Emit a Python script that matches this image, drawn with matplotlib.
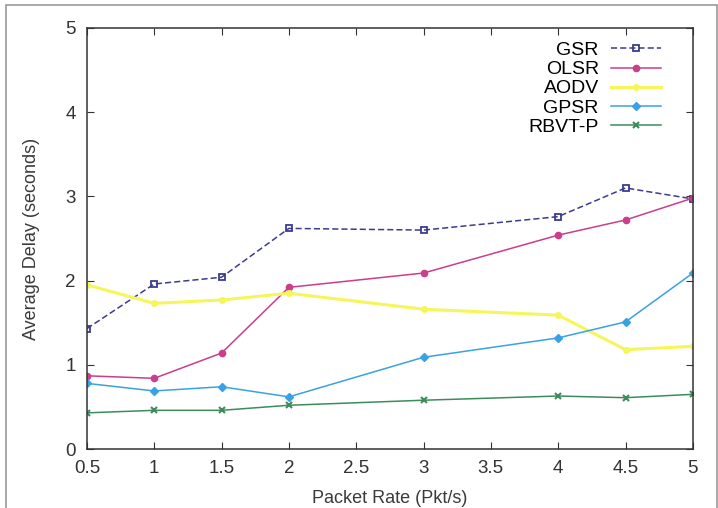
import matplotlib
matplotlib.use('Agg')
import matplotlib.pyplot as plt
from matplotlib.patches import Rectangle

plt.rcParams['font.family'] = ['Liberation Sans', 'DejaVu Sans']

# Packet rate (Pkt/s) and average delay (seconds) per protocol
rate = [0.5, 1, 1.5, 2, 3, 4, 4.5, 5]
gsr = [1.43, 1.96, 2.04, 2.62, 2.60, 2.76, 3.10, 2.97]
olsr = [0.87, 0.84, 1.14, 1.92, 2.09, 2.54, 2.72, 2.98]
aodv = [1.95, 1.73, 1.77, 1.85, 1.66, 1.59, 1.18, 1.22]
gpsr = [0.78, 0.69, 0.74, 0.62, 1.09, 1.32, 1.51, 2.09]
rbvt = [0.43, 0.46, 0.46, 0.52, 0.58, 0.63, 0.61, 0.65]

xticks = [0.5, 1, 1.5, 2, 2.5, 3, 3.5, 4, 4.5, 5]
yticks = [0, 1, 2, 3, 4, 5]

fig = plt.figure(figsize=(7.18, 5.08), dpi=100)
ax = fig.add_axes([0.121, 0.116, 0.844, 0.829])

ax.plot(rate, gsr, color='#3b3b8f', ls=(0, (4, 2)), lw=1.1, marker='s', ms=5,
        mfc='none', mew=1.3, label='GSR')
ax.plot(rate, olsr, color='#cc3d8c', ls='-', lw=1.1, marker='o', ms=4.5,
        mfc='#cc3d8c', label='OLSR')
ax.plot(rate, aodv, color='#f6f65a', ls='-', lw=2.2, marker='o', ms=4,
        label='AODV')
ax.plot(rate, gpsr, color='#3aa2e2', ls='-', lw=1.1, marker='D', ms=4.5,
        label='GPSR')
ax.plot(rate, rbvt, color='#3d8c5c', ls='-', lw=1.1, marker='x', ms=5, mew=1.5,
        label='RBVT-P')

ax.set_xlim(0.5, 5)
ax.set_ylim(0, 5)
ax.set_xticks(xticks, [f'{v:g}' for v in xticks])
ax.set_yticks(yticks)
ax.tick_params(direction='in', length=5, top=True, right=True,
               labelsize=13.5, colors='#333333', pad=8)
for s in ax.spines.values():
    s.set_color('#333333')
    s.set_linewidth(1.1)

ax.set_xlabel('Packet Rate (Pkt/s)', fontsize=13, color='#3a3a3a', labelpad=9)
ax.set_ylabel('Average Delay (seconds)', fontsize=13, color='#3a3a3a', labelpad=18)

ax.legend(loc='upper right', frameon=False, markerfirst=False, fontsize=14,
          handlelength=2.6, labelspacing=0.08, borderaxespad=0.3,
          handletextpad=0.6, bbox_to_anchor=(0.97, 1.0))

# thin grey frame around the picture
fig.patches.append(Rectangle((0.008, -0.02), 0.99, 1.01, transform=fig.transFigure,
                             fill=False, ec='#999999', lw=1.2))

fig.savefig('out.png', dpi=100)
